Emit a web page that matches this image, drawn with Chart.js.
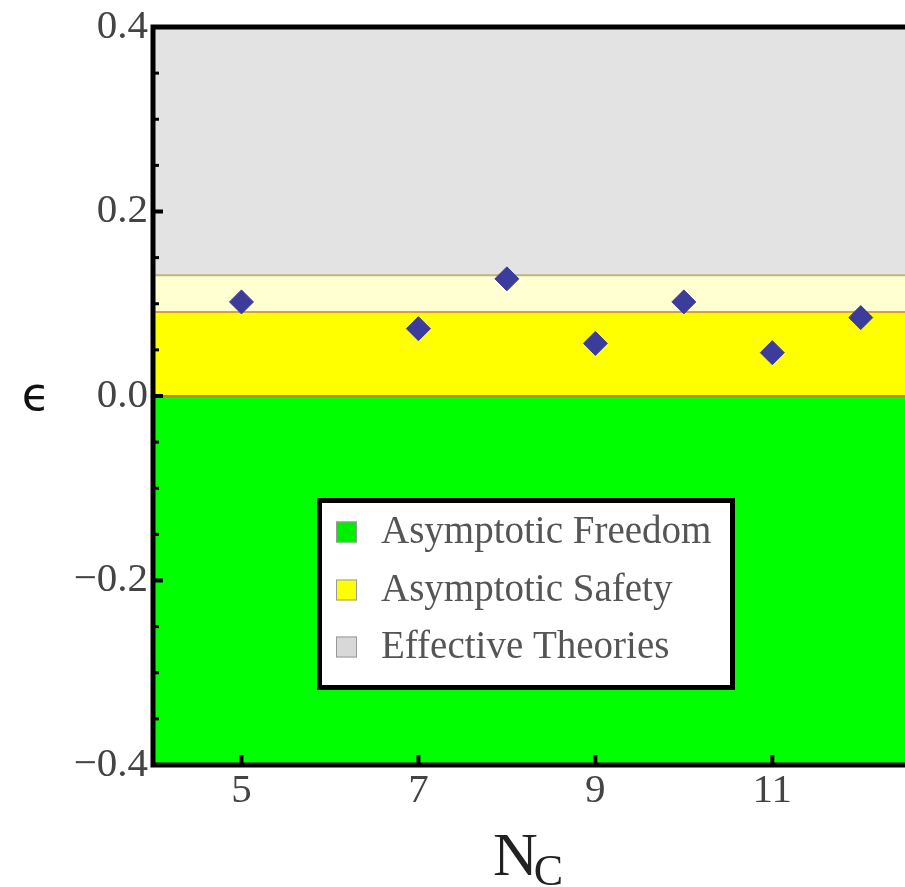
<!DOCTYPE html>
<html><head><meta charset="utf-8">
<script src="https://cdn.jsdelivr.net/npm/chart.js@4"></script>
<style>html,body{margin:0;padding:0;background:#fff;overflow:hidden}</style>
</head><body>
<canvas id="c" width="905" height="887"></canvas>
<script>
// ---- data ----
const nc = [5, 7, 8, 9, 10, 11, 12];
const eps = [0.102, 0.073, 0.127, 0.057, 0.102, 0.047, 0.085];
const xTicks = [5, 7, 9, 11];
const yTicks = [-0.4, -0.2, 0, 0.2, 0.4];
const yMinorTicks = [-0.35, -0.3, -0.25, -0.15, -0.1, -0.05, 0.05, 0.1, 0.15, 0.25, 0.3, 0.35];
const bandFrom = [-0.4, 0, 0.091, 0.131];
const bandTo = [0, 0.091, 0.131, 0.4];
const bandColors = ['#00ff00', '#ffff00', '#ffffd2', '#e3e3e3'];
const edgeValues = [0, 0.091, 0.131];
const edgeColors = ['#b8862a', '#d6a23c', '#c2b477'];
const legendNames = ['Asymptotic Freedom', 'Asymptotic Safety', 'Effective Theories'];
const legendColors = ['#00ee00', '#ffff00', '#d8d8d8'];
const xTitle = ['N', 'C'];
const yTitle = 'ϵ';

const SERIF = '"Liberation Serif", "DejaVu Serif", serif';

const bandsPlugin = {
  id: 'bands',
  beforeDatasetsDraw(chart) {
    const {ctx, chartArea: a, scales: {x, y}} = chart;
    ctx.save();
    for (let i = 0; i < bandFrom.length; i++) {
      const yTop = y.getPixelForValue(bandTo[i]);
      const yBot = y.getPixelForValue(bandFrom[i]);
      ctx.fillStyle = bandColors[i];
      ctx.fillRect(a.left, yTop, a.right - a.left, yBot - yTop);
    }
    ctx.lineWidth = 2;
    for (let i = 0; i < edgeValues.length; i++) {
      const py = y.getPixelForValue(edgeValues[i]);
      ctx.strokeStyle = edgeColors[i];
      ctx.beginPath();
      ctx.moveTo(a.left, py); ctx.lineTo(a.right, py);
      ctx.stroke();
    }
    ctx.restore();
  },
  afterDatasetsDraw(chart) {
    const {ctx, chartArea: a, scales: {x, y}} = chart;
    ctx.save();
    ctx.strokeStyle = '#000';
    ctx.fillStyle = '#000';
    ctx.lineWidth = 5;
    ctx.beginPath();
    ctx.moveTo(a.right, a.top); ctx.lineTo(a.left, a.top);
    ctx.lineTo(a.left, a.bottom); ctx.lineTo(a.right, a.bottom);
    ctx.stroke();
    ctx.lineWidth = 4;
    yTicks.forEach(v => {
      const py = y.getPixelForValue(v);
      ctx.beginPath(); ctx.moveTo(a.left, py); ctx.lineTo(a.left + 10, py); ctx.stroke();
    });
    ctx.lineWidth = 3;
    yMinorTicks.forEach(v => {
      const py = y.getPixelForValue(v);
      ctx.beginPath(); ctx.moveTo(a.left, py); ctx.lineTo(a.left + 6, py); ctx.stroke();
    });
    ctx.lineWidth = 4;
    xTicks.forEach(v => {
      const px = x.getPixelForValue(v);
      ctx.beginPath(); ctx.moveTo(px, a.bottom); ctx.lineTo(px, a.bottom - 10); ctx.stroke();
    });
    ctx.restore();
  },
  afterDraw(chart) {
    const {ctx} = chart;
    ctx.save();
    const L = 317, T = 498, R = 735, B = 690;
    ctx.fillStyle = '#fff';
    ctx.fillRect(L, T, R - L, B - T);
    ctx.lineWidth = 5;
    ctx.strokeStyle = '#000';
    ctx.strokeRect(L + 2.5, T + 2.5, R - L - 5, B - T - 5);
    const rowY = [532, 590, 647];
    ctx.font = '39px ' + SERIF;
    ctx.textBaseline = 'middle';
    ctx.textAlign = 'left';
    for (let i = 0; i < legendNames.length; i++) {
      ctx.fillStyle = legendColors[i];
      ctx.fillRect(336, rowY[i] - 10.5, 21, 21);
      ctx.lineWidth = 1;
      ctx.strokeStyle = '#999';
      ctx.strokeRect(336.5, rowY[i] - 10, 20, 20);
      ctx.fillStyle = '#555';
      ctx.fillText(legendNames[i], 381, rowY[i] + 1);
    }
    ctx.fillStyle = '#222';
    ctx.textBaseline = 'alphabetic';
    ctx.font = '62px ' + SERIF;
    ctx.fillText(xTitle[0], 493, 875);
    const nw = ctx.measureText(xTitle[0]).width;
    ctx.font = '44px ' + SERIF;
    ctx.fillText(xTitle[1], 493 + nw - 4, 885);
    ctx.font = '46px "DejaVu Sans", sans-serif';
    ctx.fillStyle = '#111';
    ctx.textAlign = 'center';
    ctx.textBaseline = 'middle';
    ctx.fillText(yTitle, 36, 398);
    ctx.restore();
  }
};

new Chart(document.getElementById('c'), {
  type: 'scatter',
  data: {
    datasets: [{
      data: nc.map((v, i) => ({x: v, y: eps[i]})),
      pointStyle: 'rectRot',
      pointRadius: 12,
      pointHoverRadius: 12,
      backgroundColor: '#3c3c9c',
      borderColor: '#3c3c9c',
      borderWidth: 1
    }]
  },
  options: {
    responsive: false,
    devicePixelRatio: 1,
    animation: false,
    layout: {autoPadding: false, padding: {top: 27, right: 0, left: 0, bottom: 0}},
    plugins: {legend: {display: false}, tooltip: {enabled: false}},
    scales: {
      x: {
        type: 'linear', min: 4, max: 12.5,
        afterBuildTicks: s => { s.ticks = xTicks.map(v => ({value: v})); },
        afterFit: s => { s.height = 122; s.paddingLeft = 0; s.paddingRight = 0; },
        grid: {display: false, drawTicks: false},
        border: {display: false},
        ticks: {color: '#444', font: {family: SERIF, size: 41}, padding: 2, maxRotation: 0,
                callback: v => String(v)}
      },
      y: {
        min: -0.4, max: 0.4,
        afterBuildTicks: s => { s.ticks = yTicks.map(v => ({value: v})); },
        afterFit: s => { s.width = 153; s.paddingTop = 0; s.paddingBottom = 0; },
        grid: {display: false, drawTicks: false},
        border: {display: false},
        ticks: {color: '#444', font: {family: SERIF, size: 41}, padding: 5,
                callback: v => (v < 0 ? '\u2212' : '') + Math.abs(v).toFixed(1)}
      }
    }
  },
  plugins: [bandsPlugin]
});
</script>
</body></html>
